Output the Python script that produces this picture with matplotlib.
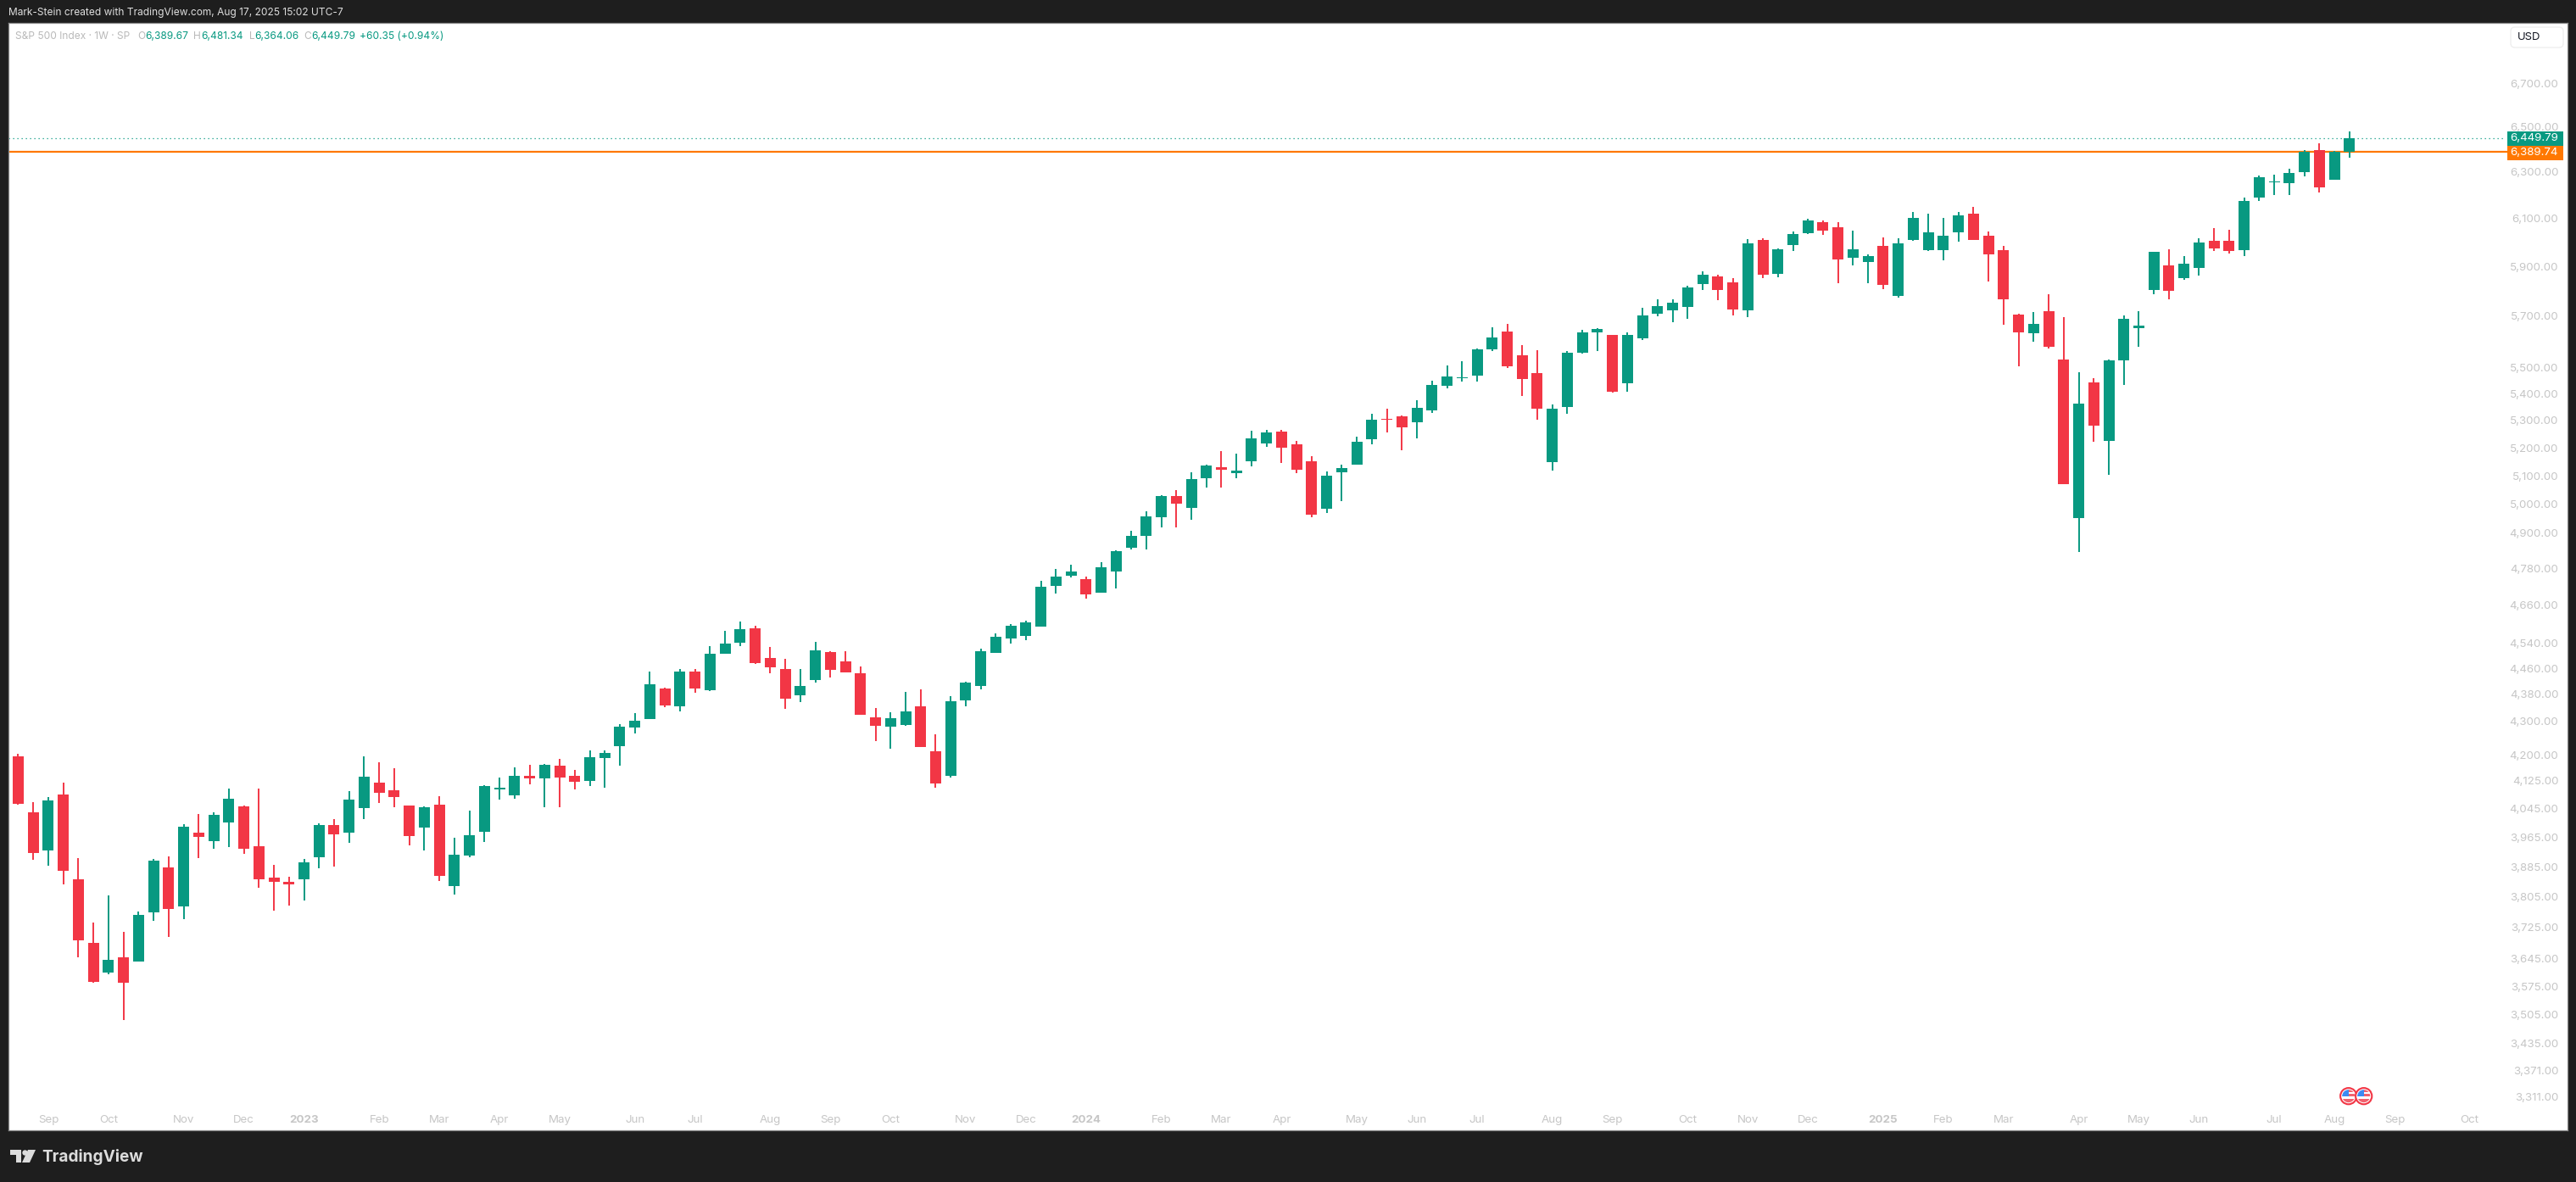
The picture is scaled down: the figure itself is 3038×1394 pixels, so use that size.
import numpy as np
from matplotlib import pyplot as plt
from matplotlib.patches import Circle, FancyBboxPatch, Polygon, Rectangle

# weekly S&P 500 candles
opens = [4196, 4035, 3930, 4086, 3851, 3685, 3609, 3648, 3638, 3763, 3883, 3780, 3979, 3956, 4006, 4052,
         3942, 3856, 3845, 3852, 3910, 4000, 3978, 4048, 4120, 4098, 4054, 3993, 4057, 3833, 3916, 3981,
         4100, 4083, 4139, 4132, 4168, 4139, 4125, 4191, 4226, 4281, 4306, 4399, 4345, 4451, 4394, 4507,
         4541, 4587, 4493, 4459, 4378, 4425, 4512, 4483, 4446, 4311, 4283, 4288, 4345, 4211, 4139, 4363,
         4406, 4509, 4554, 4562, 4592, 4724, 4758, 4747, 4702, 4772, 4851, 4892, 4955, 5029, 4987, 5092,
         5131, 5110, 5152, 5216, 5259, 5213, 5152, 4984, 5113, 5140, 5232, 5306, 5316, 5293, 5338, 5430,
         5459, 5468, 5569, 5639, 5547, 5478, 5149, 5350, 5556, 5635, 5625, 5439, 5612, 5709, 5723, 5736,
         5828, 5859, 5835, 5723, 6010, 5870, 5988, 6038, 6085, 6063, 5935, 5918, 5985, 5780, 6010, 5967,
         5967, 6042, 6120, 6028, 5967, 5706, 5632, 5719, 5531, 4952, 5442, 5226, 5527, 5652, 5804, 5904,
         5852, 5893, 6007, 6007, 5967, 6190, 6257, 6252, 6300, 6398, 6267, 6389.67]
highs = [4203, 4064, 4079, 4120, 3909, 3738, 3808, 3713, 3765, 3907, 3914, 4002, 4031, 4035, 4102, 4054,
         4102, 3890, 3858, 3907, 4005, 4017, 4096, 4196, 4178, 4161, 4055, 4051, 4081, 3965, 4040, 4113,
         4134, 4164, 4171, 4172, 4188, 4156, 4213, 4213, 4291, 4324, 4451, 4401, 4459, 4459, 4530, 4579,
         4609, 4595, 4528, 4491, 4459, 4544, 4515, 4515, 4467, 4340, 4327, 4388, 4396, 4261, 4376, 4419,
         4522, 4570, 4600, 4611, 4741, 4780, 4794, 4755, 4803, 4842, 4909, 4976, 5032, 5050, 5113, 5140,
         5189, 5180, 5263, 5266, 5266, 5226, 5170, 5116, 5140, 5241, 5325, 5344, 5317, 5376, 5449, 5507,
         5524, 5573, 5655, 5669, 5586, 5566, 5360, 5563, 5645, 5652, 5626, 5635, 5733, 5766, 5766, 5821,
         5880, 5866, 5852, 6013, 6017, 5974, 6045, 6099, 6092, 6085, 6049, 5949, 6021, 6017, 6128, 6120,
         6102, 6128, 6150, 6046, 5985, 5707, 5716, 5786, 5696, 5482, 5459, 5531, 5702, 5719, 5961, 5971,
         5942, 6017, 6060, 6052, 6190, 6285, 6289, 6315, 6398, 6429, 6395, 6481.34]
lows = [4057, 3904, 3888, 3838, 3648, 3584, 3605, 3491.6, 3637, 3742, 3700, 3746, 3909, 3934, 3939, 3920,
        3829, 3767, 3782, 3796, 3880, 3886, 3951, 4017, 4062, 4050, 3944, 3930, 3847, 3811, 3911, 3953,
        4071, 4074, 4115, 4050, 4050, 4100, 4110, 4105, 4168, 4263, 4305, 4342, 4329, 4386, 4391, 4506,
        4530, 4475, 4446, 4337, 4358, 4417, 4432, 4447, 4318, 4241, 4218, 4286, 4222, 4105, 4134, 4345,
        4396, 4508, 4538, 4549, 4591, 4699, 4752, 4682, 4701, 4716, 4845, 4845, 4920, 4920, 4947, 5059,
        5059, 5092, 5134, 5204, 5146, 5110, 4955, 4970, 5011, 5139, 5213, 5256, 5192, 5235, 5328, 5420,
        5445, 5445, 5563, 5498, 5392, 5303, 5118, 5325, 5553, 5563, 5404, 5408, 5605, 5699, 5676, 5689,
        5804, 5763, 5702, 5696, 5852, 5856, 5963, 6035, 6031, 5832, 5904, 5832, 5807, 5773, 6006, 5963,
        5925, 6003, 6010, 5838, 5666, 5504, 5599, 5573, 5070, 4836.6, 5223, 5104, 5433, 5580, 5786, 5767,
        5845, 5862, 5963, 5953, 5942, 6175, 6201, 6201, 6282, 6212, 6266, 6364.06]
closes = [4058, 3923, 4069, 3873, 3692, 3585, 3642, 3583, 3756, 3902, 3772, 3995, 3966, 4028, 4074, 3935,
          3852, 3845, 3838, 3897, 4000, 3973, 4071, 4136, 4089, 4079, 3970, 4049, 3861, 3918, 3972, 4110,
          4105, 4139, 4132, 4170, 4134, 4122, 4193, 4206, 4283, 4301, 4412, 4347, 4451, 4399, 4507, 4538,
          4584, 4477, 4464, 4368, 4406, 4517, 4456, 4448, 4319, 4286, 4308, 4329, 4223, 4118, 4360, 4417,
          4515, 4560, 4595, 4606, 4721, 4755, 4772, 4696, 4786, 4839, 4891, 4958, 5029, 5002, 5089, 5137,
          5121, 5118, 5235, 5256, 5201, 5122, 4964, 5101, 5128, 5223, 5303, 5303, 5275, 5347, 5433, 5465,
          5462, 5569, 5615, 5504, 5455, 5344, 5344, 5556, 5635, 5649, 5408, 5625, 5702, 5739, 5753, 5814,
          5866, 5804, 5726, 5996, 5866, 5971, 6035, 6092, 6049, 5929, 5971, 5942, 5823, 5996, 6102, 6042,
          6028, 6114, 6010, 5949, 5767, 5635, 5669, 5580, 5071, 5363, 5281, 5527, 5689, 5663, 5960, 5801,
          5910, 5999, 5975, 5963, 6175, 6278, 6260, 6297, 6391, 6234, 6389.74, 6449.79]

price_ticks = [6700, 6500, 6300, 6100, 5900, 5700, 5500, 5400, 5300, 5200, 5100, 5000, 4900, 4780, 4660, 4540,
               4460, 4380, 4300, 4200, 4125, 4045, 3965, 3885, 3805, 3725, 3645, 3575, 3505, 3435, 3371, 3311]

# week index of each axis label
date_ticks = [2, 6, 11, 15, 19, 24, 28, 32, 36, 41, 45, 50, 54, 58, 63, 67, 71, 76, 80, 84, 89, 93, 97,
              102, 106, 111, 115, 119, 124, 128, 132, 137, 141, 145, 150, 154, 158, 163]
date_labels = ["Sep", "Oct", "Nov", "Dec", "2023", "Feb", "Mar", "Apr", "May", "Jun", "Jul", "Aug", "Sep", "Oct",
               "Nov", "Dec", "2024", "Feb", "Mar", "Apr", "May", "Jun", "Jul", "Aug", "Sep", "Oct", "Nov", "Dec",
               "2025", "Feb", "Mar", "Apr", "May", "Jun", "Jul", "Aug", "Sep", "Oct"]

last_price = 6449.79
level_price = 6389.74

GREEN = "#089981"
RED = "#f23645"
ORANGE = "#ff7800"
DARK = "#1e1e1e"
AXIS_TEXT = "#c6c6c6"
W, H = 3038, 1394

plt.rcParams["font.family"] = ["Inter", "DejaVu Sans"]

fig = plt.figure(figsize=(W / 100, H / 100), dpi=100, facecolor=DARK)

# white panel, pixel box 10..3028 x 27..1333
ax = fig.add_axes([10 / W, 1 - 1333 / H, 3018 / W, 1306 / H], facecolor="white")
ax.set_yscale("log")
ax.set_xlim(-0.648, 169.5)
ax.set_ylim(3234.1, 6989.1)

x = np.arange(len(opens))
o = np.array(opens, dtype=float)
h = np.array(highs, dtype=float)
l = np.array(lows, dtype=float)
c = np.array(closes, dtype=float)
colors = [GREEN if c[i] >= o[i] else RED for i in range(len(x))]

ax.hlines(last_price, -0.648, 165.4, colors=GREEN, linewidth=0.9, linestyles=(0, (1, 3)), zorder=1)
ax.hlines(level_price, -0.648, 165.5, colors=ORANGE, linewidth=1.6, zorder=1)
ax.vlines(x, l, h, colors=colors, linewidth=1.4, zorder=2)
ax.bar(x, np.abs(c - o), bottom=np.minimum(o, c), width=0.733, color=colors, linewidth=0, zorder=3)

ax.yaxis.tick_right()
ax.yaxis.set_minor_locator(plt.NullLocator())
ax.yaxis.set_minor_formatter(plt.NullFormatter())
ax.set_yticks(price_ticks)
ax.set_yticklabels(["{:,.2f}".format(p) for p in price_ticks], fontsize=9.6, color=AXIS_TEXT, ha="right")
ax.tick_params(axis="y", which="both", length=0, pad=-7.7)

ax.set_xticks(date_ticks)
ax.set_xticklabels(date_labels, fontsize=9.6, color=AXIS_TEXT)
for lab in ax.get_xticklabels():
    if lab.get_text().startswith("20"):
        lab.set_fontweight("bold")
ax.tick_params(axis="x", length=0, pad=-13)

for side in ax.spines.values():
    side.set_color("#8c8c8c")
    side.set_linewidth(0.9)

# everything around the chart is drawn in pixel coordinates on top
top = fig.add_axes([0, 0, 1, 1], facecolor="none", zorder=5)
top.set_xlim(0, W)
top.set_ylim(H, 0)
top.axis("off")

top.text(10, 15, "Mark-Stein created with TradingView.com, Aug 17, 2025 15:02 UTC-7",
         color="#dedede", fontsize=8.6, va="center")

# legend row
GREY = "#b9b9b9"
top.text(18, 43, "S&P 500 Index · 1W · SP", color=GREY, fontsize=8.6, va="center")
for letter, lx, value, vx in [("O", 162, "6,389.67", 171), ("H", 228, "6,481.34", 237),
                              ("L", 294, "6,364.06", 300), ("C", 358, "6,449.79", 367)]:
    top.text(lx, 43, letter, color=GREY, fontsize=8.6, va="center")
    top.text(vx, 43, value, color=GREEN, fontsize=8.6, va="center")
top.text(424, 43, "+60.35 (+0.94%)", color=GREEN, fontsize=8.6, va="center")

# currency button
top.add_patch(FancyBboxPatch((2961, 32), 62, 24, boxstyle="round,pad=0,rounding_size=5",
                             facecolor="white", edgecolor="#eeeeee", linewidth=1))
top.text(2969, 44, "USD", color="#131722", fontsize=9.4, va="center")

# price tags on the axis
top.add_patch(Rectangle((2957, 155), 66, 17, facecolor=GREEN, linewidth=0))
top.add_patch(Rectangle((2957, 172), 66, 17, facecolor=ORANGE, linewidth=0))
top.text(3017, 163, "{:,.2f}".format(last_price), color="white", fontsize=9.6, va="center", ha="right")
top.text(3017, 180, "{:,.2f}".format(level_price), color="white", fontsize=9.6, va="center", ha="right")

# two US event flags under the last candles
for cx in [2769.7, 2787.7]:
    top.add_patch(Circle((cx, 1292.7), 9.6, facecolor="white", edgecolor=RED, linewidth=1.5))
    clip = Circle((cx, 1292.7), 7.5, transform=top.transData)
    for rect in [Rectangle((cx - 8, 1285), 8, 8, facecolor="#3d8bf2", linewidth=0),
                 Rectangle((cx, 1285), 8, 2.5, facecolor="#f2626e", linewidth=0),
                 Rectangle((cx, 1290), 8, 3, facecolor="#f2626e", linewidth=0),
                 Rectangle((cx - 8, 1296), 16, 5, facecolor="#f2626e", linewidth=0)]:
        top.add_patch(rect)
        rect.set_clip_path(clip)

# TradingView mark and wordmark
LOGO = "#dcdcdc"
top.add_patch(Polygon([(12, 1356), (25, 1356), (25, 1371), (19, 1371), (19, 1362), (12, 1362)],
                      facecolor=LOGO, linewidth=0))
top.add_patch(Circle((29.5, 1359.5), 3.2, facecolor=LOGO, linewidth=0))
top.add_patch(Polygon([(33, 1356), (42, 1356), (35, 1371), (26, 1371)], facecolor=LOGO, linewidth=0))
top.text(49, 1364, "TradingView", color=LOGO, fontsize=13.7, fontweight="bold", va="center")

fig.savefig("out.png", dpi=100, facecolor=DARK)
